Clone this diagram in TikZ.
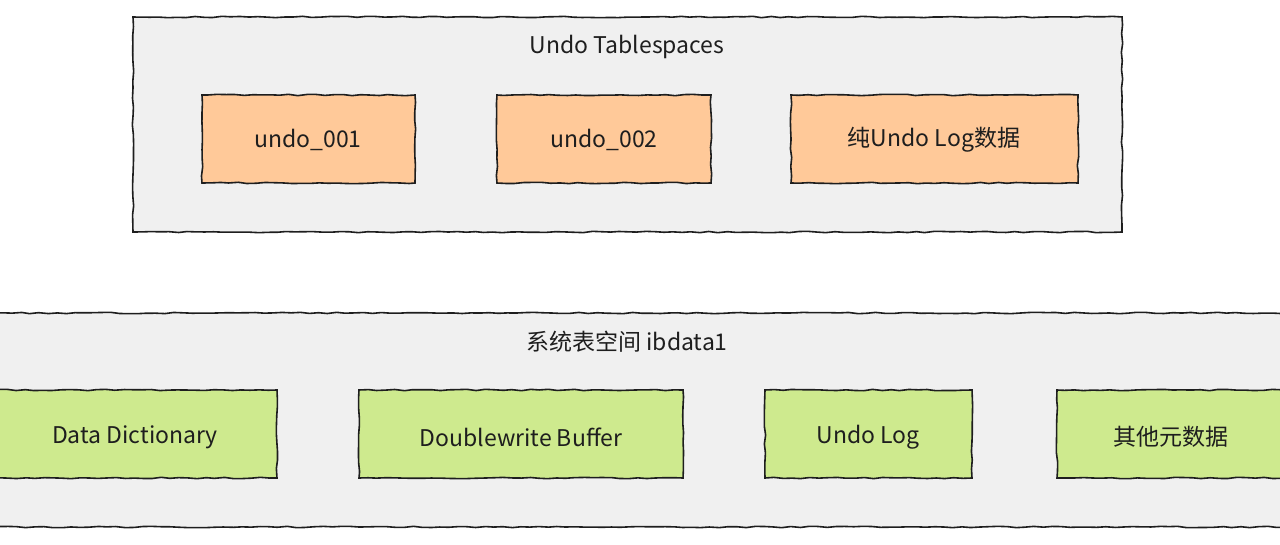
\documentclass[tikz,border=0pt]{standalone}
\usepackage{fontspec}
\setmainfont{Noto Sans CJK SC}[BoldFont={Noto Sans CJK SC Medium}]
\usetikzlibrary{decorations.pathmorphing}
\definecolor{grayfill}{HTML}{F0F0F0}
\definecolor{orangefill}{HTML}{FFC999}
\definecolor{greenfill}{HTML}{CEEA8E}
\definecolor{edge}{HTML}{1E1E1E}
\tikzset{
  sketch/.style={draw=edge,line width=1.6pt,decorate,decoration={random steps,segment length=9pt,amplitude=0.7pt}},
  group/.style={sketch,fill=grayfill},
  obox/.style={sketch,fill=orangefill},
  gbox/.style={sketch,fill=greenfill},
  lbl/.style={font=\fontsize{23}{27}\selectfont,text=edge}
}
\begin{document}
\begin{tikzpicture}[x=1pt,y=1pt]
\useasboundingbox (0,0) rectangle (1280,544);
% top group
\draw[group] (133,527) rectangle (1122,312);
\node[lbl] (t1) at (627,497) {Undo Tablespaces};
\draw[obox] (202,449) rectangle (415,361); \node[lbl] (u1) at (308,404) {undo\_001};
\draw[obox] (497,449) rectangle (711,361); \node[lbl] (u2) at (604,404) {undo\_002};
\draw[obox] (791,449) rectangle (1078,361); \node[lbl] (u3) at (934,404) {纯Undo Log数据};
% bottom group
\draw[group] (-10,231) rectangle (1290,17);
\node[lbl] (t2) at (627,202) {系统表空间 ibdata1};
\draw[gbox] (-10,154) rectangle (277,66); \node[lbl] (g1) at (135,107) {Data Dictionary};
\draw[gbox] (359,154) rectangle (683,66); \node[lbl] (g2) at (521,107) {Doublewrite Buffer};
\draw[gbox] (765,154) rectangle (972,66); \node[lbl] (g3) at (868,107) {Undo Log};
\draw[gbox] (1057,154) rectangle (1290,66); \node[lbl] (g4) at (1171,107) {其他元数据};
\end{tikzpicture}
\end{document}
